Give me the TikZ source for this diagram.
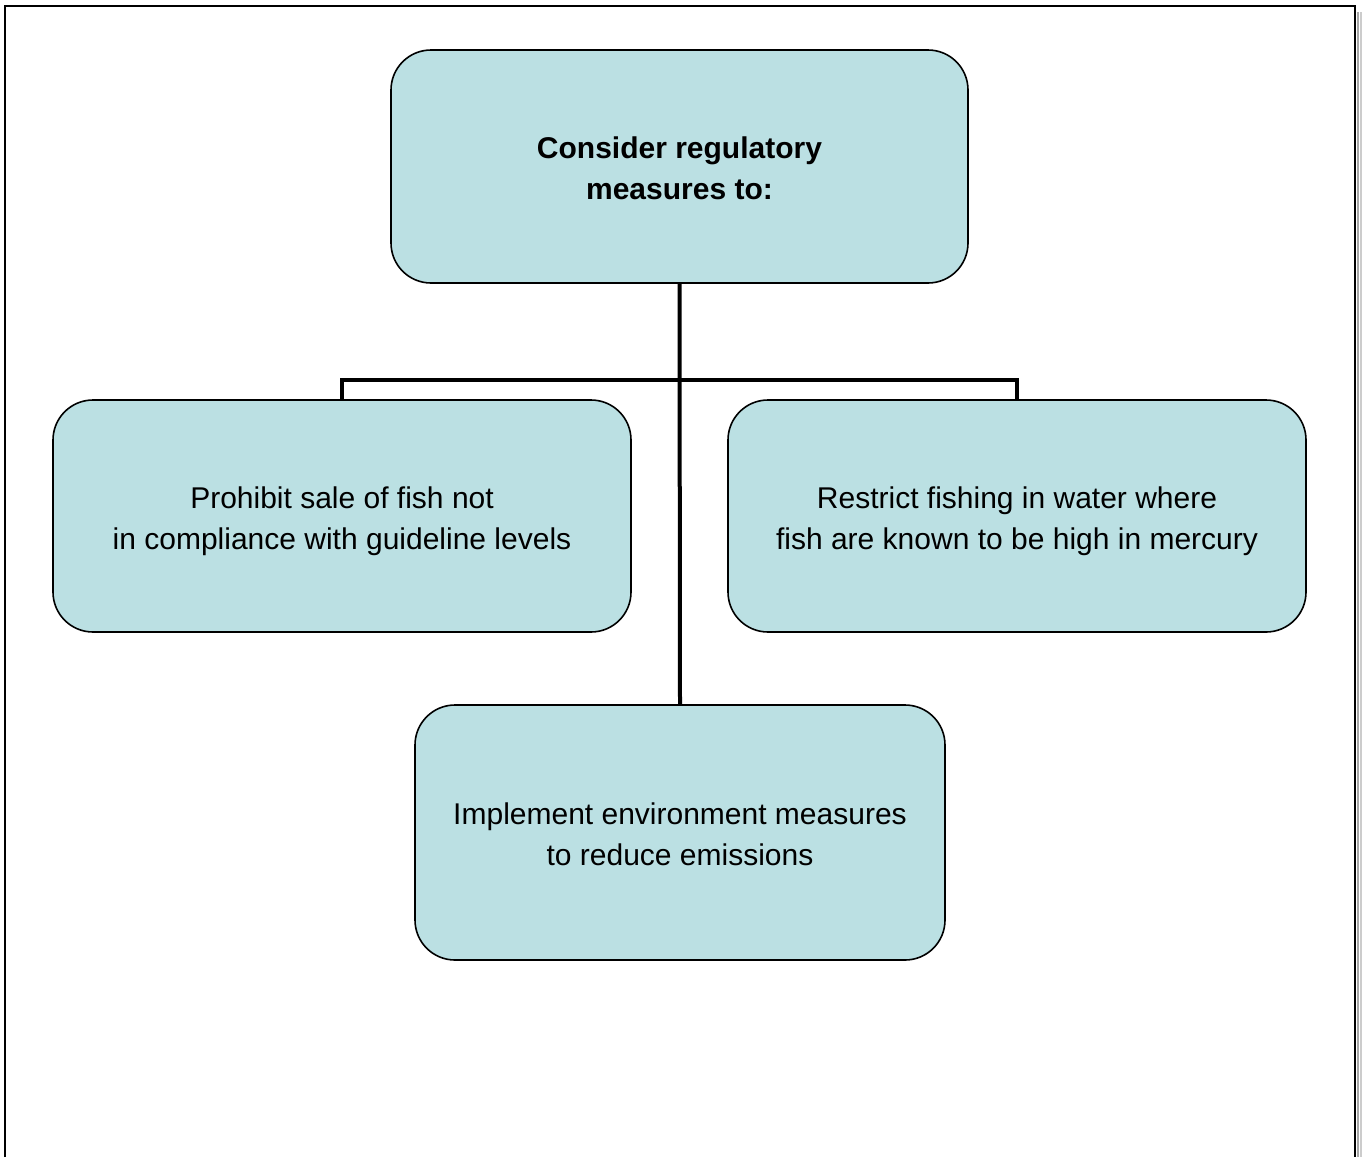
\documentclass[tikz,border=0pt]{standalone}
\usepackage{fontspec}
\setmainfont{Liberation Sans}
\begin{document}
\begin{tikzpicture}[x=1pt,y=-1pt,
  boxstyle/.style={draw=black, line width=1.6pt, fill=boxblue, rounded corners=40pt},
  txt/.style={align=center, font=\fontsize{30}{41}\selectfont},
  conn/.style={line width=4pt, black}]
\definecolor{boxblue}{HTML}{BBE0E3}
\useasboundingbox[fill=white] (0,0) rectangle (1365,1157);
% page frame
\draw[line width=2pt] (5,1157) -- (5,6) -- (1355,6) -- (1355,1157);
\fill[gray!70] (1357,12) rectangle (1359,1157);
\fill[gray!40] (1360,12) rectangle (1362,1157);
% boxes
\node[boxstyle, minimum width=577pt, minimum height=233pt] (top) at (679.5,166.5) {};
\node[boxstyle, minimum width=578pt, minimum height=232pt] (left) at (342,516) {};
\node[boxstyle, minimum width=578pt, minimum height=232pt] (right) at (1017,516) {};
\node[boxstyle, minimum width=530pt, minimum height=255pt] (bottom) at (680,832.5) {};
% texts
\node[txt, font=\fontsize{30}{41}\bfseries\selectfont] (toptxt) at ([yshift=-2pt]top.center) {Consider regulatory\\measures to:};
\node[txt] (lefttxt) at ([yshift=-5pt]left.center) {Prohibit sale of fish not\\in compliance with guideline levels};
\node[txt] (righttxt) at ([yshift=-5pt]right.center) {Restrict fishing in water where\\fish are known to be high in mercury};
\node[txt] (bottomtxt) at ([yshift=-2pt]bottom.center) {Implement environment measures\\to reduce emissions};
% connectors
\coordinate (bus) at (679.5,380);
\draw[conn] (top.south) -- (bottom.north);
\draw[conn] (left.north) -- (left.north |- bus) -- (right.north |- bus) -- (right.north);
\end{tikzpicture}
\end{document}
